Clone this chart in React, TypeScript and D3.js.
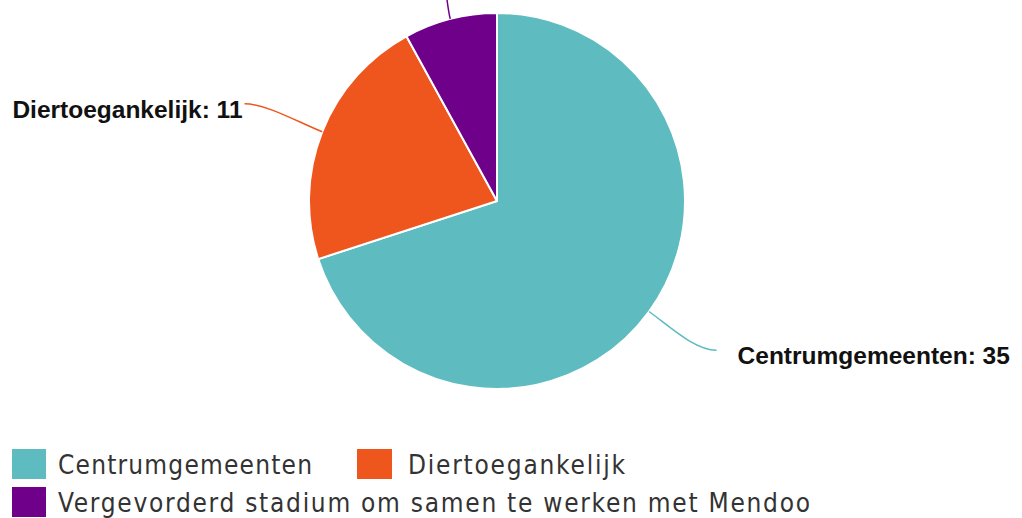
import React from "react";
import * as d3 from "d3";

const categories = ["Centrumgemeenten", "Diertoegankelijk", "Vergevorderd stadium om samen te werken met Mendoo"];
const values = [35, 11, 4];
const colors = ["#5EBBBF", "#EE561D", "#6F008A"];

const W = 1022;
const H = 518;
const cx = 497;
const cy = 201;
const R = 188;
const labelDist = 76;

export default function App() {
  const pie = d3.pie<number>().sort(null).value((d) => d)(values);
  const arc = d3.arc<d3.PieArcDatum<number>>().innerRadius(0).outerRadius(R);

  const labels = pie.map((p, i) => {
    const mid = (p.startAngle + p.endAngle) / 2;
    const sx = cx + Math.sin(mid) * R;
    const sy = cy - Math.cos(mid) * R;
    const right = Math.sin(mid) > 0;
    const ex = cx + Math.sin(mid) * (R + labelDist) + (right ? 6 : -7);
    const ey = cy - Math.cos(mid) * (R + labelDist) - (right ? 6 : 0);
    const c1x = sx + Math.sin(mid) * 25;
    const c1y = sy - Math.cos(mid) * 25;
    const c2x = ex + (right ? -22 : 22);
    const c2y = ey;
    return { i, sx, sy, ex, ey, c1x, c1y, c2x, c2y, right };
  });

  return (
    <svg width={W} height={H} style={{ position: "absolute", left: 0, top: 0, background: "#fff" }}>
      <g transform={`translate(${cx},${cy})`}>
        {pie.map((p, i) => (
          <path key={i} d={arc(p) || ""} fill={colors[i]} stroke="#fff" strokeWidth={2} strokeLinejoin="round" />
        ))}
      </g>
      {labels.map((l) => (
        <g key={l.i}>
          <path
            d={`M${l.sx},${l.sy}C${l.c1x},${l.c1y} ${l.c2x},${l.c2y} ${l.ex},${l.ey}`}
            fill="none"
            stroke={colors[l.i]}
            strokeWidth={1.5}
          />
          <text
            x={l.right ? l.ex + 21 : l.ex - 2}
            y={l.ey + 14}
            textAnchor={l.right ? "start" : "end"}
            fontFamily="'Liberation Sans', Arial, sans-serif"
            fontWeight="bold"
            fontSize={24.5}
            fill="#111"
          >
            {`${categories[l.i]}: ${values[l.i]}`}
          </text>
        </g>
      ))}
      <g fontFamily="'DejaVu Sans Condensed', 'DejaVu Sans', sans-serif" fontStretch="condensed" fontSize={26} fill="#333">
        <rect x={12} y={449} width={34} height={30} fill={colors[0]} />
        <text x={58} y={474} textLength={254} lengthAdjust="spacing">{categories[0]}</text>
        <rect x={357} y={449} width={35} height={30} fill={colors[1]} />
        <text x={408} y={474} textLength={217} lengthAdjust="spacing">{categories[1]}</text>
        <rect x={12} y={487} width={34} height={30} fill={colors[2]} />
        <text x={58} y={512} textLength={752} lengthAdjust="spacing">{categories[2]}</text>
      </g>
    </svg>
  );
}
